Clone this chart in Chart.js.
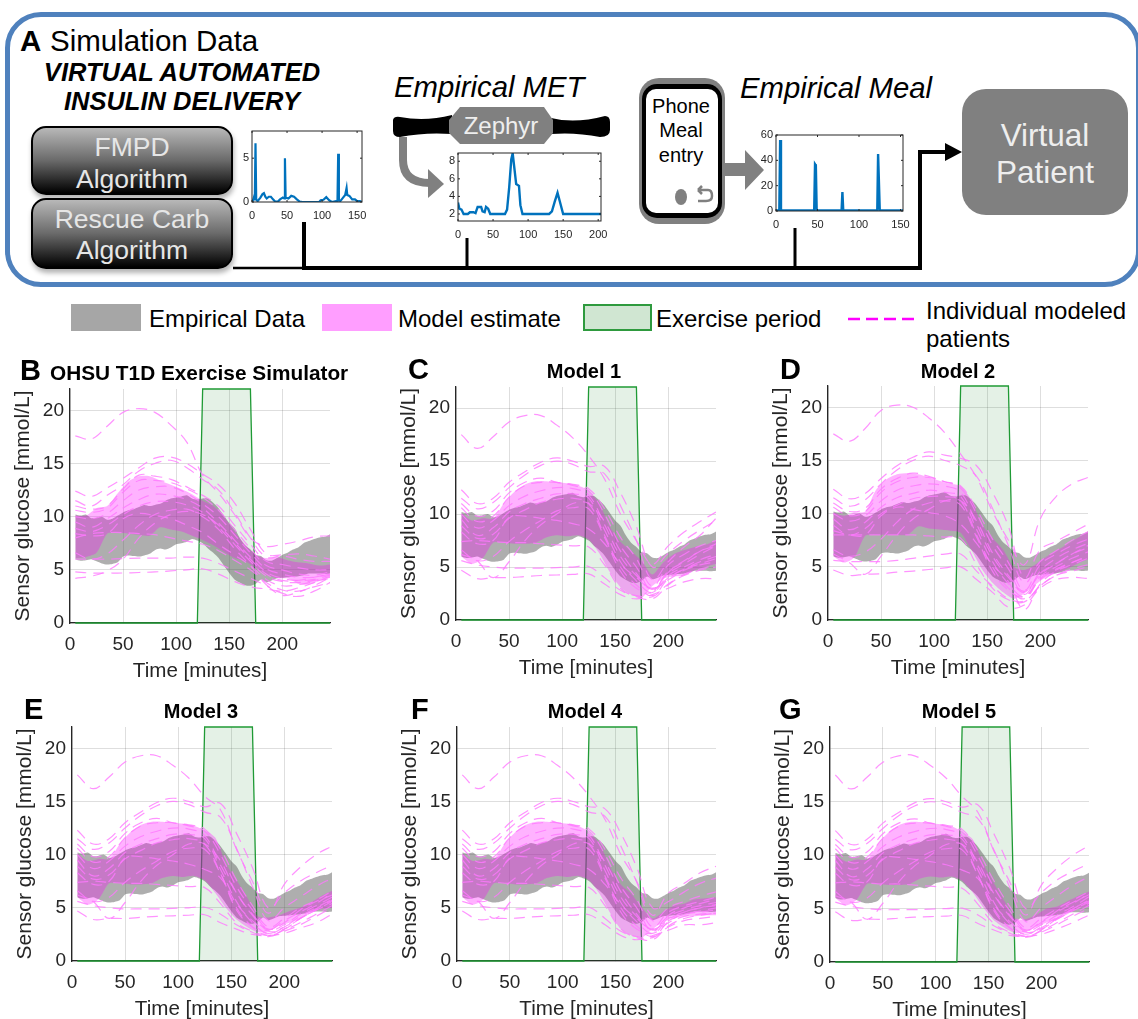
<!DOCTYPE html>
<html>
<head>
<meta charset="utf-8">
<title>Exercise simulator</title>
<script src="https://cdn.jsdelivr.net/npm/chart.js@4/dist/chart.umd.min.js"></script>
<style>
  html, body { margin: 0; padding: 0; background: #fff; }
  #page { position: relative; width: 1138px; height: 1019px; overflow: hidden; font-family: "Liberation Sans", Arial, sans-serif; color: #000; }
  #page canvas, #page svg { position: absolute; }
  .t { position: absolute; white-space: nowrap; line-height: 1; }
  .c { transform: translateX(-50%); }
  .letter { font-weight: bold; font-size: 29px; }
  .ptitle { font-weight: bold; font-size: 20px; }
  .ptitle.wide { font-size: 20.8px; }
  .legend { font-size: 24px; }
  .swatch { position: absolute; height: 27px; box-sizing: border-box; }
  .btn { position: absolute; left: 31px; width: 202px; box-sizing: border-box; border: 2px solid #000; border-radius: 15px;
         background: linear-gradient(#b8b8b8, #6a6a6a 50%, #000); box-shadow: 1px 4px 5px rgba(0,0,0,.3); color: #e6e6e6; font-size: 26.5px; text-align: center; }
  #frame { position: absolute; left: 5px; top: 12px; width: 1136px; height: 275px; box-sizing: border-box; border: 5px solid #4f81bd; border-radius: 36px; }
</style>
</head>
<body>
<div id="page">
  <div id="frame"></div>

  <div class="t" style="left:20px;top:26px;font-size:29.5px;font-weight:bold">A</div>
  <div class="t" style="left:50px;top:26px;font-size:29.5px">Simulation Data</div>
  <div class="t c" style="left:182px;top:60px;font-size:25.5px;font-weight:bold;font-style:italic">VIRTUAL AUTOMATED</div>
  <div class="t c" style="left:182px;top:89px;font-size:25.5px;font-weight:bold;font-style:italic">INSULIN DELIVERY</div>
  <div class="btn" style="top:126px;height:69px;line-height:32px;padding-top:3px">FMPD<br>Algorithm</div>
  <div class="btn" style="top:198px;height:71px;line-height:31px;padding-top:4px">Rescue Carb<br>Algorithm</div>

  <svg width="1138" height="290" style="left:0;top:0">
    <!-- Zephyr strap -->
    <path d="M393 120 Q394 116 400 117 Q425 122 452 115 L452 134 Q425 132 400 137 Q393 137 393 131 Z" fill="#000"/>
    <path d="M551 118 Q575 124 605 116 Q610 116 610 122 L610 130 Q610 137 600 137 Q575 132 551 134 Z" fill="#000"/>
    <path d="M449 120 L460 107 L544 107 L553 120 L553 133 L544 144 L460 144 L449 133 Z" fill="#808080"/>
    <!-- arrow strap to MET trace -->
    <path d="M403 137 L403 160 Q403 183 430 183" fill="none" stroke="#808080" stroke-width="8"/>
    <path d="M428 169 L444 184 L428 198 Z" fill="#808080"/>
    <!-- phone -->
    <rect x="639" y="78" width="86" height="146" rx="20" fill="#808080"/>
    <rect x="642" y="84" width="80" height="134" rx="15" fill="#000"/>
    <rect x="646" y="89" width="72" height="124" rx="10" fill="#fff"/>
    <ellipse cx="681" cy="197" rx="6" ry="8" fill="#808080"/>
    <path d="M698 190 L702 186 M698 190 L702 194 M698 190 L708 190 Q712 190 712 196 Q712 201 706 201 L698 201" fill="none" stroke="#808080" stroke-width="2.5"/>
    <!-- arrow phone to meal trace -->
    <path d="M725 163 L745 163 L745 150 L764 170 L745 190 L745 176 L725 176 Z" fill="#808080"/>
    <!-- connectors -->
    <path d="M233 268 L305 268" stroke="#000" stroke-width="2.5" fill="none"/>
    <path d="M304 222 L304 268 L920 268 L920 152 L946 152" stroke="#000" stroke-width="4" fill="none"/>
    <path d="M467 238 L467 268 M795 228 L795 268" stroke="#000" stroke-width="3" fill="none"/>
    <path d="M945 143 L962 152 L945 161 Z" fill="#000"/>
    <!-- virtual patient -->
    <rect x="962" y="89" width="166" height="126" rx="24" fill="#808080"/>
  </svg>
  <div class="t c" style="left:501px;top:114px;font-size:24px;color:#eee">Zephyr</div>
  <div class="t" style="left:394px;top:72px;font-size:29.3px;font-style:italic">Empirical MET</div>
  <div class="t" style="left:740px;top:73px;font-size:29.3px;font-style:italic">Empirical Meal</div>
  <div class="t c" style="left:681px;top:96px;font-size:20px">Phone</div>
  <div class="t c" style="left:681px;top:120px;font-size:20px">Meal</div>
  <div class="t c" style="left:681px;top:145px;font-size:20px">entry</div>
  <div class="t c" style="left:1045px;top:120px;font-size:31.5px;color:#eee">Virtual</div>
  <div class="t c" style="left:1045px;top:157px;font-size:31.5px;color:#eee">Patient</div>

  <!-- legend -->
  <div class="swatch" style="left:71px;top:304px;width:70px;background:#a6a6a6"></div>
  <div class="t legend" style="left:149px;top:307px">Empirical Data</div>
  <div class="swatch" style="left:322px;top:304px;width:70px;background:#ff9eff"></div>
  <div class="t legend" style="left:398px;top:307px">Model estimate</div>
  <div class="swatch" style="left:583px;top:304px;width:69px;background:#d0e6d2;border:2px solid #2e9a3e"></div>
  <div class="t legend" style="left:656px;top:307px">Exercise period</div>
  <svg width="80" height="6" style="left:846px;top:316px"><path d="M2 3 L70 3" stroke="#ff00ff" stroke-width="2.5" stroke-dasharray="12 6"/></svg>
  <div class="t legend" style="left:926px;top:299px">Individual modeled</div>
  <div class="t legend" style="left:926px;top:327px">patients</div>

  <div id="charts"></div>
</div>

<script>
// shared time grids (minutes)
const empTime = [5,10,15,20,25,30,35,40,45,50,55,60,65,70,75,80,85,90,95,100,105,110,115,120,125,130,135,140,145,150,155,160,165,170,175,180,185,190,195,200,205,210,215,220,225,230,235,240,245];
const bandTime = [5,15,25,35,45,55,65,75,85,95,105,115,125,135,145,155,165,175,185,195,205,215,225,235,245];
const patientTime = [5,20,35,50,65,80,95,110,125,140,155,170,185,200,215,230,245];
const exerciseTime = [5,120,125,170,175,245];
const exerciseLevel = [0,0,22,22,0,0];
const xTicksMax = 245;

// empirical band
const empHigh = [10.2,10.1,10.2,9.85,9.9,10,9.7,9.8,10.1,10.4,10.6,10.7,10.9,11.1,11,11.1,11.2,11.5,11.7,11.8,11.9,12,11.7,11.6,11.7,11.7,11.3,10.8,10.1,9.4,8.9,8,7.3,6.9,6.4,6.3,5.9,5.85,6.1,6.4,6.6,6.9,7.1,7.5,7.7,7.9,8.05,8.1,8.35];
const empLow = [6,5.85,5.9,6,5.8,5.6,5.5,5.55,5.7,6.25,6.35,6.3,6.25,6.35,6.5,6.85,7,6.9,7.1,7.4,7.5,7.65,7.9,7.75,7.5,7,6.6,6.1,5.4,4.7,4.1,3.8,3.55,3.5,3.7,4.1,3.85,4,4.2,4.25,4.3,4.35,4.4,4.5,4.65,4.65,4.65,4.6,4.65];

// model estimate bands
const simHigh = [10.1,10.1,10.8,11,12.2,13.3,13.8,13.8,13.4,13,12.6,12.1,11.5,11,10,8.6,7.4,6.4,6.1,6.2,5.9,5.7,5.6,5.4,5.5];
const simLow = [6.1,6.2,6.6,8.4,8.5,8.4,8.3,8.2,9,8.8,8.6,8.2,7.8,7.3,6.7,6.1,5.8,5.2,4.6,4.2,4.2,3.7,3.6,4,4.4];
const model1High = [10.1,9.4,9.6,9.6,11,12.1,12.8,13.1,13.1,13,12.9,12.7,12.2,11,8.8,7.4,6.5,5.6,4.3,5.4,6.2,6.6,6.9,7.1,7.5];
const model1Low = [6,5.3,5.8,7.3,7.3,7.2,7.2,7.3,7.8,8,7.9,8,7.6,6.3,4.5,3.1,2.4,2.1,3.2,3.9,4.1,4.2,4.7,5,5.3];
const model2High = [10.1,9.8,10.1,10.2,12.2,13.2,13.7,13.8,13.7,13.4,13.1,12.8,12.6,11.3,9,7.7,6.6,5,4.7,5.2,5.9,6.5,7.1,7.7,8.3];
const model2Low = [6,5.4,5.9,7.9,8,8,8,8,8.8,8.6,8.5,8.4,8.2,6.6,4.8,3.5,2.6,2,2.5,3.3,4,4.4,4.8,5.3,5.7];
const model3High = [10.1,9.4,9.6,9.6,11,12.1,12.8,13.1,13.1,13,12.9,12.7,12.3,11.6,9.2,7.6,6,4.2,4.1,4.3,4.7,5,5.5,6.1,6.6];
const model3Low = [6,5.3,5.8,7.3,7.3,7.2,7.2,7.3,7.8,8,7.9,8,7.6,6.4,5,3.9,3.2,2.7,2.8,3.3,3.6,4,4.5,4.9,5];
const model4High = [10.1,9.4,9.6,9.6,11,12.1,12.8,13.1,13.1,13,12.9,12.7,12.1,11,8.8,7.2,6.3,5,4,4.6,5.2,5.4,5.8,5.9,6];
const model4Low = [6,5.3,5.8,7.3,7.3,7.2,7.2,7.3,7.8,8,7.9,8,7.6,6.3,4.5,3,2.4,2.2,3,3.7,4.1,4.2,4.2,4.3,4.3];
const model5High = [10.1,9.4,9.6,9.6,11,12.1,12.8,13.1,13.1,13,12.9,12.7,12.2,11.5,9.2,7.4,5.7,4.1,4,4.4,5,5.2,5.7,6.2,6.6];
const model5Low = [6,5.3,5.8,7.3,7.3,7.2,7.2,7.3,7.8,8,7.9,8,7.6,6.5,5.1,3.9,3.2,2.7,2.8,3.3,3.7,4,4.5,5,5.2];

// individual modeled patients, first part shared by models 1, 3, 4, 5 (t = 5..125)
const patientsStart = [
  [17.5,16.2,17.3,18.7,19.3,19.3,18.4,17.2,15.5],
  [12.3,11,11.5,13,14,14.9,15.3,15,14.5],
  [11.5,10.5,11.1,12.5,13.7,14.6,15,14.7,14],
  [11,9.8,10.3,12,13,13.4,13,12.8,12.4],
  [10.6,9.3,9.8,11.6,12.7,13,13,12.7,12.2],
  [10,8.7,9.4,10.8,11.7,12.2,12.5,12.4,11.8],
  [9.5,8,8.7,10.2,11,11.5,11.9,11.9,11.5],
  [8.9,7.7,8.1,9.6,10.4,11.1,11.4,11.5,11],
  [8.3,7.2,7.5,9.7,9.8,9.6,9.4,9.1,8.6],
  [7.4,7.5,7.4,7.3,7.3,7.2,7.1,7,6.9],
  [6.6,5.6,6,7.4,8.5,9.4,10.3,10.6,10.5],
  [5.6,5.2,5,4.9,4.9,4.9,4.95,5,5.05],
  [4.7,3.9,4,4,4.1,4.2,4.25,4.3,4.35],
  [6.2,5.6,4,5.5,7.5,9,10,11,11]
];
// second part per model (t = 140..245)
const model1Late = [
  [13.3,10,7.5,5.3,7,8.3,9.3,10.2],
  [14.5,12,8.8,5,6.3,7.5,8.5,9.4],
  [13.8,10.8,7.5,3.8,5.5,6.9,8,9.6],
  [10.5,7.8,5.8,3.2,5.2,6.2,7,7.5],
  [10,7,5,2.8,4.5,5.6,6.5,7.2],
  [9,6,4.2,3,4.4,5.3,6.2,7],
  [8.5,5.5,3.7,2.6,4.2,5,5.7,6.2],
  [8,5,3.3,2.3,3.9,4.8,5.3,5.8],
  [7.2,5.3,4,3,3.8,4.7,5.2,5.5],
  [5.2,3,2.2,2,3.3,4.3,4.8,5.2],
  [7.8,4.6,3,2.6,4,4.8,5.5,6],
  [4,2.8,2.3,2.2,3.4,4.2,4.7,5],
  [3.4,2.4,2,2.4,3,3.6,3.9,3.9],
  [9.3,6.5,4.4,2.9,4.6,5.5,6.5,7]
];
const model3Late = [
  [14.2,10.5,7.5,4.5,7.2,8.8,10,10.8],
  [14.8,12,8.8,5,6.4,7.5,8.3,9],
  [13.5,10.6,7,3.8,5,6,7,7.8],
  [10.5,7.6,5.2,3.2,4,5,5.7,6.6],
  [10,7,4.8,3,3.8,4.6,5.4,6.4],
  [9,6.4,4.3,2.9,3.4,4.4,5.2,6],
  [8.6,5.6,3.6,2.6,3.2,4.2,5,5.8],
  [8.2,5,3.2,2.4,3,4,4.8,5.6],
  [7.8,5.4,3.8,2.8,3,4,4.8,5.4],
  [5.4,3.6,2.8,2.4,2.9,3.6,4.4,5.2],
  [8.2,4.8,3.2,2.6,3.2,4,4.9,5.7],
  [4.4,3.4,2.7,2.3,2.8,3.4,4.2,5],
  [3.6,3,2.5,2.4,2.6,3.1,3.6,4.4],
  [9.4,6.4,4.4,3,3.6,4.8,5.6,6.2]
];
const model4Late = [
  [13.3,10,7.5,4.3,6.4,7.3,8.3,8.9],
  [14.3,12,8.8,5,5.6,6.5,7.3,7.8],
  [13.6,10.8,7.4,3.8,5,5.6,6.1,6.5],
  [10.5,7.8,5.8,3.2,4.6,5.2,5.6,6],
  [10,7,5,2.8,4.3,5,5.4,5.8],
  [9,6,4.2,3,4.2,4.8,5.2,5.5],
  [8.5,5.5,3.7,2.6,3.9,4.6,5,5.2],
  [8,5,3.3,2.3,3.7,4.4,4.7,5],
  [7.2,5.3,4,3,3.8,4.4,4.6,4.8],
  [5.2,3,2.2,2,3.3,4,4.3,4.5],
  [7.8,4.6,3,2.6,3.6,4.2,4.4,4.5],
  [4,2.8,2.3,2.2,3.2,3.8,4,4.2],
  [3.4,2.4,2,2.4,2.9,3.4,3.4,3.6],
  [9.3,6.5,4.4,2.9,4,4.6,5,5.3]
];
const model5Late = [
  [14,10.4,7.5,4.4,7.2,8.8,10,10.9],
  [14.7,12,8.8,5,6.5,7.7,8.5,9.2],
  [13.4,10.5,7,3.8,5.1,6.2,7.2,8],
  [10.4,7.6,5.2,3.2,4.1,5,5.8,6.6],
  [9.9,7,4.8,3,3.8,4.7,5.5,6.4],
  [9,6.3,4.3,2.9,3.5,4.4,5.2,6.1],
  [8.6,5.6,3.6,2.6,3.3,4.2,5,5.8],
  [8.1,5,3.2,2.4,3,4.1,4.9,5.6],
  [7.8,5.4,3.8,2.8,3.1,4,4.8,5.5],
  [5.4,3.6,2.8,2.4,2.9,3.7,4.5,5.3],
  [8.1,4.8,3.2,2.6,3.2,4.1,5,5.7],
  [4.4,3.4,2.7,2.3,2.8,3.5,4.3,5],
  [3.6,3,2.5,2.4,2.6,3.1,3.7,4.4],
  [9.3,6.4,4.4,3,3.7,4.8,5.6,6.3]
];
// simulator and model 2 have their own whole traces
const simPatients = [
  [17.6,17.3,18.5,19.8,20.15,19.8,18.6,17,13.9,12.2,10.2,8,7.2,7.4,7.7,8.1,8.2],
  [12.4,11.9,12.7,13.6,14.6,15.5,15.6,15,14,13,11.3,8.8,6.5,6.4,6.5,6.3,6],
  [11.5,11,12,13,14.3,15,15.3,14.6,13.5,12.5,10.4,8,6.2,6.3,6,5.8,5.8],
  [11,10.7,11,12.6,13.9,13.8,13.5,12.8,12,11,9.2,7.4,5.8,5.5,5.2,5,5],
  [10.6,10.4,10.8,12.3,13.4,13.4,13.2,12.6,11.8,10.6,8.8,7,5.4,5,4.6,4.5,4.8],
  [10,9.8,10.3,11.5,12.5,12.8,12.8,12.2,11.2,10,8.3,6.6,5.1,4.6,4.3,4.3,4.6],
  [9.5,9,9.8,10.8,11.6,12.1,12,11.6,10.8,9.4,7.8,6.2,4.8,4.2,4,4.1,4.5],
  [8.9,8.6,9.2,10.2,11,11.4,11.4,11.1,10.4,9,7.4,5.8,4.4,3.9,3.8,4,4.3],
  [8.4,8.2,8.4,9.8,10.3,10.1,9.8,9.2,8.5,7.4,6.4,5.4,4.1,3.5,3.6,3.9,4.2],
  [8,8.4,8.5,8.5,8.4,8.3,8,7.7,7.4,6.8,5.9,5,3.8,3.1,3,3.4,3.8],
  [6.6,6,6.5,7.8,9.2,10.2,10.6,10.7,10,8.8,7,5.4,3.6,2.8,2.5,3,3.8],
  [6,6,6,6.05,6.1,6.1,6.1,6.2,6.1,5.6,4.9,4.2,3.5,2.6,2.9,3.5,4.3],
  [4.8,4.7,4.7,4.7,4.75,4.8,4.9,5,5.1,4.6,3.9,3.4,3.2,3,3.3,3.8,4.4],
  [4.2,4.4,4.9,6,8,9.4,10.2,10.5,10.2,9.2,7.6,6,4.6,4,4,4.3,4.6]
];
const model2Patients = [
  [17.5,16.8,18,19.7,20.2,20,19,17.6,15.6,13.4,10.2,7.5,5.2,9.5,11.6,12.8,13.4],
  [12.3,11.4,11.9,13.3,14.5,15.3,15.8,15.5,15.2,14.5,12,8.8,4,6.6,7.4,8.2,9],
  [11.5,10.7,11.3,12.8,14.1,15,15.4,15,14.5,13.5,10.5,7,3.5,5.5,6.5,7.5,8.3],
  [11,10.2,10.5,12.3,13.3,13.8,13.5,13,12.6,10.4,7.6,5.4,2.8,5.2,6.2,7,7.6],
  [10.6,9.8,10.2,12,13,13.4,13.4,13,12.4,10,7,4.8,2.4,4.6,5.8,6.6,7.2],
  [10,9.3,9.8,11.2,12.2,12.6,12.8,12.6,12,9,6,4,2.6,4.4,5.3,6.2,7],
  [9.5,8.5,9.2,10.6,11.5,11.9,12.2,12,11.6,8.5,5.5,3.4,2.2,4.1,5,5.8,6.4],
  [8.9,8,8.6,10,10.8,11.4,11.6,11.6,11.2,8,5,3,2,3.9,4.8,5.4,6],
  [8.4,8,8,9.8,10.6,10.4,10.1,9.8,9,7.2,5.2,3.6,1,3.4,4.6,5.2,5.8],
  [8,8,8,8,8,8,7.9,7.8,7.7,5.2,3,1.9,1.7,3.2,4.2,4.8,5.2],
  [6.6,6,6.4,7.6,9.2,10.4,11,11.2,10.8,7.8,4.6,2.8,2.2,3.8,4.7,5.4,6],
  [5.6,5.5,5.5,5.5,5.6,5.8,6,6.2,6.2,4.6,3.2,2,1.8,3.2,4.2,4.6,5],
  [4.7,4.2,4.3,4.35,4.5,4.6,4.75,4.9,5,3.8,2.6,1.2,1.4,3,3.8,4,3.9],
  [6.2,5.4,4.3,6,8,9.5,10.4,11.2,11.2,9.3,6.3,4.2,2.7,4.3,5.3,6.2,6.8]
];

// small traces in panel A
const insulinTime = [0,2,3,4,5,6,8,12,15,17,19,21,24,27,30,33,37,40,44,46,47,48,52,56,60,64,68,72,96,98,102,106,110,114,120,122,123,124,126,130,133,135,136,139,143,147,150,154,157];
const insulinValues = [0,0.3,0.6,0.2,6.7,0.3,0.1,0.5,0.9,1,0.6,0.4,0.6,0.6,0.3,0.05,0.05,0.3,0.5,0.4,5,0.5,0.4,0.7,0.6,0.3,0.05,0,0,0.2,0.25,0.55,0.2,0,0.1,0.1,5.5,0.2,0.1,0.5,0.8,1.6,0.8,0.7,0.3,0.3,0.1,0.1,0];
const metTime = [0,2,5,8,14,17,22,25,28,33,35,38,40,43,46,67,70,73,76,78,80,83,87,89,92,130,134,138,142,145,150,204];
const metValues = [3.3,2.6,2.5,2,2,2.2,2.2,2.1,2.8,2.8,2.3,2.2,2.8,2.6,2,2,2.5,5,8.2,8.9,7.5,5.4,5.2,3,2,2,2.3,3.4,4.4,3.5,2,2];
const mealTime = [0,4,5,6,46,47,48,49,79,80,81,122,123,124,125,153];
const mealValues = [0.5,0.5,56,0.5,0.5,37,36,0.5,0.5,15,0.5,0.5,45,45,0.5,0.5];

const tickColor = '#262626';
const mainFont = '"Liberation Sans", Arial, sans-serif';
const narrowFont = '"Liberation Sans Narrow", "Liberation Sans", sans-serif';

function pairs(xs, ys) {
    return xs.map((x, i) => ({x: x, y: ys[i]}));
}

function join(startRows, lateRows) {
    return startRows.map((row, i) => row.concat(lateRows[i]));
}

function addCanvas(left, top, width, height) {
    const canvas = document.createElement('canvas');
    canvas.width = width;
    canvas.height = height;
    canvas.style.left = left + 'px';
    canvas.style.top = top + 'px';
    canvas.style.width = width + 'px';
    canvas.style.height = height + 'px';
    document.getElementById('charts').appendChild(canvas);
    return canvas;
}

function addText(cls, left, top, text) {
    const el = document.createElement('div');
    el.className = 't ' + cls;
    el.style.left = left + 'px';
    el.style.top = top + 'px';
    el.textContent = text;
    document.getElementById('charts').appendChild(el);
}

function bandDatasets(time, high, low, color, order) {
    const base = {borderWidth: 0, pointRadius: 0, order: order, tension: 0.25};
    return [
        Object.assign({data: pairs(time, high), fill: '+1', backgroundColor: color}, base),
        Object.assign({data: pairs(time, low), fill: false}, base)
    ];
}

// keep the plot box exactly where the layout puts it
function fixSize(scale, prop, size) {
    scale[prop] = size;
    scale.paddingLeft = 0;
    scale.paddingRight = 0;
    scale.paddingTop = 0;
    scale.paddingBottom = 0;
}

function drawMainChart(p) {
    const padLeft = 60, padRight = 12, padTop = 6, padBottom = 64;
    const w = p.right - p.left, h = p.bottom - p.top;
    const canvas = addCanvas(Math.round(p.left) - padLeft, Math.round(p.top) - padTop, Math.round(w) + padLeft + padRight, Math.round(h) + padTop + padBottom);

    const datasets = [{
        data: pairs(exerciseTime, exerciseLevel),
        borderColor: '#1f9a35',
        borderWidth: 1.3,
        backgroundColor: 'rgba(30,140,50,0.12)',
        fill: 'origin',
        pointRadius: 0,
        order: 4,
        clip: false
    }];
    datasets.push(...bandDatasets(empTime, empHigh, empLow, 'rgba(85,85,85,0.48)', 3));
    datasets.push(...bandDatasets(bandTime, p.high, p.low, 'rgba(255,0,255,0.3)', 2));
    p.patients.forEach(function(row) {
        datasets.push({
            data: pairs(patientTime, row),
            borderColor: 'rgba(255,120,255,0.8)',
            borderWidth: 1.2,
            borderDash: [11, 7],
            pointRadius: 0,
            fill: false,
            tension: 0.4,
            order: 1
        });
    });

    new Chart(canvas, {
        type: 'line',
        data: {datasets: datasets},
        options: {
            responsive: false,
            animation: false,
            devicePixelRatio: 1,
            layout: {padding: {top: padTop, right: padRight, left: 0, bottom: 0}},
            plugins: {legend: {display: false}, tooltip: {enabled: false}},
            scales: {
                x: {
                    type: 'linear',
                    min: 0,
                    max: xTicksMax,
                    afterFit: function(scale) { fixSize(scale, 'height', padBottom); },
                    border: {color: tickColor, width: 1.3},
                    grid: {color: 'rgba(0,0,0,0.13)', lineWidth: 1, tickLength: 0},
                    ticks: {stepSize: 50, includeBounds: false, maxRotation: 0, color: tickColor, padding: 10, font: {family: mainFont, size: 19}},
                    title: {display: true, text: 'Time [minutes]', color: tickColor, padding: {top: 0, bottom: 3}, font: {family: mainFont, size: 20.6}}
                },
                y: {
                    min: 0,
                    max: 22,
                    afterFit: function(scale) { fixSize(scale, 'width', padLeft); },
                    border: {color: tickColor, width: 1.3},
                    grid: {color: 'rgba(0,0,0,0.13)', lineWidth: 1, tickLength: 0},
                    ticks: {stepSize: 5, includeBounds: false, color: tickColor, padding: 6, font: {family: mainFont, size: 19}},
                    title: {display: true, text: 'Sensor glucose [mmol/L]', color: tickColor, padding: {top: 1, bottom: 0}, font: {family: mainFont, size: 21}}
                }
            }
        }
    });

    addText('letter', p.letterX, p.letterY, p.letter);
    if (p.wide) {
        addText('ptitle wide', p.titleX, p.titleY, p.title);
    } else {
        addText('ptitle c', p.titleX, p.titleY, p.title);
    }
}

// small MATLAB style box with inward ticks
const boxPlugin = {
    id: 'box',
    afterDraw: function(chart) {
        const a = chart.chartArea, ctx = chart.ctx;
        ctx.save();
        ctx.strokeStyle = '#262626';
        ctx.lineWidth = 1;
        ctx.strokeRect(a.left, a.top, a.right - a.left, a.bottom - a.top);
        chart.scales.x.ticks.forEach(function(t) {
            const px = chart.scales.x.getPixelForValue(t.value);
            ctx.beginPath();
            ctx.moveTo(px, a.bottom); ctx.lineTo(px, a.bottom - 2);
            ctx.moveTo(px, a.top); ctx.lineTo(px, a.top + 2);
            ctx.stroke();
        });
        chart.scales.y.ticks.forEach(function(t) {
            const py = chart.scales.y.getPixelForValue(t.value);
            ctx.beginPath();
            ctx.moveTo(a.left, py); ctx.lineTo(a.left + 2, py);
            ctx.moveTo(a.right, py); ctx.lineTo(a.right - 2, py);
            ctx.stroke();
        });
        ctx.restore();
    }
};

function drawSmallChart(s) {
    const padLeft = 20, padRight = 10, padTop = 8, padBottom = 24;
    const canvas = addCanvas(s.left - padLeft, s.top - padTop, s.right - s.left + padLeft + padRight, s.bottom - s.top + padTop + padBottom);
    new Chart(canvas, {
        type: 'line',
        data: {datasets: [{data: pairs(s.time, s.values), borderColor: '#0072bd', borderWidth: s.lineWidth, pointRadius: 0, fill: false, tension: 0}]},
        options: {
            responsive: false,
            animation: false,
            devicePixelRatio: 1,
            layout: {padding: {top: padTop, right: padRight}},
            plugins: {legend: {display: false}, tooltip: {enabled: false}},
            scales: {
                x: {
                    type: 'linear',
                    min: 0,
                    max: s.xMax,
                    afterFit: function(scale) { fixSize(scale, 'height', padBottom); },
                    border: {display: false},
                    grid: {display: false, drawTicks: false},
                    ticks: {stepSize: 50, includeBounds: false, maxRotation: 0, color: tickColor, padding: 7, font: {family: narrowFont, size: 11}}
                },
                y: {
                    min: s.yMin,
                    max: s.yMax,
                    afterFit: function(scale) { fixSize(scale, 'width', padLeft); },
                    border: {display: false},
                    grid: {display: false, drawTicks: false},
                    ticks: {stepSize: s.yStep, includeBounds: false, color: tickColor, padding: 3, font: {family: narrowFont, size: 11}}
                }
            }
        },
        plugins: [boxPlugin]
    });
}

document.addEventListener('DOMContentLoaded', function() {
    drawSmallChart({left: 252, right: 362, top: 131, bottom: 202, time: insulinTime, values: insulinValues, xMax: 157, yMin: 0, yMax: 8.1, yStep: 5, lineWidth: 2.2});
    drawSmallChart({left: 458, right: 601, top: 153, bottom: 221, time: metTime, values: metValues, xMax: 204, yMin: 1.2, yMax: 8.94, yStep: 2, lineWidth: 2.4});
    drawSmallChart({left: 776, right: 903, top: 135, bottom: 211, time: mealTime, values: mealValues, xMax: 153, yMin: 0, yMax: 60, yStep: 20, lineWidth: 2.4});

    drawMainChart({left: 69.5, right: 329, top: 388.5, bottom: 622.7, high: simHigh, low: simLow, patients: simPatients,
        letter: 'B', letterX: 20, letterY: 356, title: 'OHSU T1D Exercise Simulator', titleX: 50, titleY: 363, wide: true});
    drawMainChart({left: 455.7, right: 715.3, top: 386.7, bottom: 620, high: model1High, low: model1Low, patients: join(patientsStart, model1Late),
        letter: 'C', letterX: 408, letterY: 355, title: 'Model 1', titleX: 584, titleY: 361});
    drawMainChart({left: 828.3, right: 1088, top: 386, bottom: 620.3, high: model2High, low: model2Low, patients: model2Patients,
        letter: 'D', letterX: 780, letterY: 355, title: 'Model 2', titleX: 958, titleY: 361});
    drawMainChart({left: 71.7, right: 331.3, top: 726.7, bottom: 961, high: model3High, low: model3Low, patients: join(patientsStart, model3Late),
        letter: 'E', letterX: 24, letterY: 695, title: 'Model 3', titleX: 201, titleY: 701});
    drawMainChart({left: 456.7, right: 715.7, top: 726.7, bottom: 960.7, high: model4High, low: model4Low, patients: join(patientsStart, model4Late),
        letter: 'F', letterX: 411, letterY: 695, title: 'Model 4', titleX: 585, titleY: 701});
    drawMainChart({left: 830.3, right: 1089.3, top: 727, bottom: 961.7, high: model5High, low: model5Low, patients: join(patientsStart, model5Late),
        letter: 'G', letterX: 779, letterY: 695, title: 'Model 5', titleX: 959, titleY: 701});
});
</script>
</body>
</html>
